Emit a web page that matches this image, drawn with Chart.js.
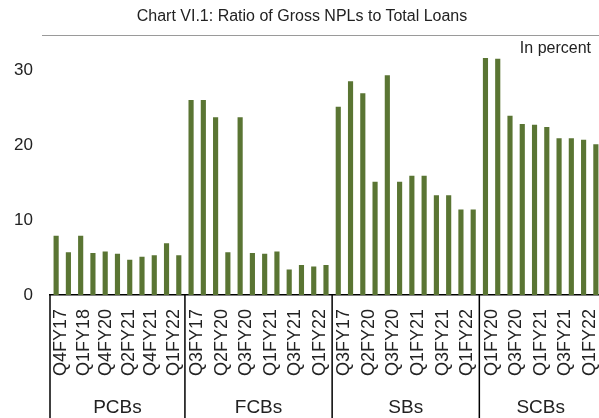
<!DOCTYPE html>
<html>
<head>
<meta charset="utf-8">
<script src="https://cdn.jsdelivr.net/npm/chart.js@4/dist/chart.umd.min.js"></script>
<style>
  html, body { margin: 0; padding: 0; background: #fff; overflow: hidden; }
  #wrap { position: relative; width: 599px; height: 418px; overflow: hidden; }
  #nplChart { position: absolute; left: 0; top: 0; }
  #title {
    position: absolute; left: 0; width: 604px; top: 7px;
    text-align: center; font: 16px "Liberation Sans"; color: #222;
  }
  #rule { position: absolute; left: 42px; right: 0; top: 35px; border-top: 1px solid #9a9a9a; }
  #unit { position: absolute; right: 8px; top: 39px; font: 16px "Liberation Sans"; color: #222; }
</style>
</head>
<body>
<div id="wrap">
  <canvas id="nplChart" width="602" height="418"></canvas>
  <div id="title">Chart VI.1: Ratio of Gross NPLs to Total Loans</div>
  <div id="rule"></div>
  <div id="unit">In percent</div>
</div>
<script>
const groups = ['PCBs', 'FCBs', 'SBs', 'SCBs'];

// quarter labels under each group (the source labels every other bar)
const pcbTicks = ['Q4FY17', 'Q1FY18', 'Q4FY20', 'Q2FY21', 'Q4FY21', 'Q1FY22'];
const fcbTicks = ['Q3FY17', 'Q2FY20', 'Q3FY20', 'Q1FY21', 'Q3FY21', 'Q1FY22'];
const sbTicks = ['Q3FY17', 'Q2FY20', 'Q3FY20', 'Q1FY21', 'Q3FY21', 'Q1FY22'];
const scbTicks = ['Q1FY20', 'Q3FY20', 'Q1FY21', 'Q3FY21', 'Q1FY22'];

// gross NPL ratio, in percent
const pcbValues = [7.9, 5.7, 7.9, 5.6, 5.8, 5.5, 4.7, 5.1, 5.3, 6.9, 5.3];
const fcbValues = [26.0, 26.0, 23.7, 5.7, 23.7, 5.6, 5.5, 5.8, 3.4, 4.0, 3.8, 4.0];
const sbValues = [25.1, 28.5, 26.9, 15.1, 29.3, 15.1, 15.9, 15.9, 13.3, 13.3, 11.4, 11.4];
const scbValues = [31.6, 31.5, 23.9, 22.8, 22.7, 22.4, 20.9, 20.9, 20.7, 20.1];

const yTicks = [0, 10, 20, 30];

const groupValues = [pcbValues, fcbValues, sbValues, scbValues];
const groupTicks = [pcbTicks, fcbTicks, sbTicks, scbTicks];
const values = groupValues.flat();
const labels = groupValues.flatMap((g, i) => g.map(() => groups[i]));
const groupSizes = groupValues.map(g => g.length);

const FONT = '"Liberation Sans", Arial, sans-serif';


// ======================
// GROUP BOXES + LABELS
// ======================

const groupBoxes = {
  id: 'groupBoxes',
  afterDraw(chart) {
    const x = chart.scales.x;
    const ctx = chart.ctx;
    const half = (x.getPixelForValue(1) - x.getPixelForValue(0)) / 2;
    let start = 0;

    ctx.save();
    ctx.strokeStyle = '#000';
    ctx.lineWidth = 1.5;
    ctx.fillStyle = '#222';

    groupSizes.forEach((n, i) => {
      const left = x.getPixelForValue(start) - half;
      const right = x.getPixelForValue(start + n - 1) + half;

      ctx.beginPath();
      ctx.moveTo(left, x.top);
      ctx.lineTo(left, x.bottom);
      if (i === groupSizes.length - 1) {
        ctx.moveTo(right, x.top);
        ctx.lineTo(right, x.bottom);
      }
      ctx.stroke();

      // quarter labels, spread evenly across the group
      const ticks = groupTicks[i];
      const step = (right - left) / ticks.length;
      ctx.font = '18px ' + FONT;
      ctx.textAlign = 'right';
      ctx.textBaseline = 'middle';
      ticks.forEach((t, k) => {
        ctx.save();
        ctx.translate(left + step * (k + 0.5), x.top + 14);
        ctx.rotate(-Math.PI / 2);
        ctx.fillText(t, 0, 0);
        ctx.restore();
      });

      // group name
      ctx.font = '19px ' + FONT;
      ctx.textAlign = 'center';
      ctx.fillText(groups[i], (left + right) / 2, x.bottom - 10);
      start += n;
    });
    ctx.restore();
  }
};


// ======================
// NPL CHART
// ======================

new Chart(
  document.getElementById('nplChart'),
  {
    type: 'bar',

    data: {
      labels: labels,

      datasets: [{
        label: 'Gross NPL ratio',
        data: values,
        backgroundColor: '#5a7533',
        categoryPercentage: 1,
        barPercentage: 0.42
      }]
    },

    options: {
      responsive: false,
      animation: false,
      layout: { padding: { top: 32.5, right: 0, bottom: 0, left: 0 } },
      plugins: {
        legend: { display: false },
        tooltip: { enabled: false }
      },
      scales: {
        x: {
          grid: { drawOnChartArea: false, drawTicks: false },
          border: { display: true, color: '#000', width: 1.5 },
          ticks: { display: false },
          afterFit: scale => {
            scale.height = 123;
            scale.paddingLeft = 0;
            scale.paddingRight = 0;
          }
        },
        y: {
          min: 0,
          max: 35,
          grid: { display: false, drawTicks: false },
          border: { display: false },
          afterBuildTicks: scale => {
            scale.ticks = yTicks.map(v => ({ value: v }));
          },
          ticks: {
            padding: 17,
            color: '#222',
            font: { family: FONT, size: 17 }
          },
          afterFit: scale => {
            scale.width = 50;
            scale.paddingTop = 0;
            scale.paddingBottom = 0;
          }
        }
      }
    },

    plugins: [groupBoxes]
  }
);
</script>
</body>
</html>
